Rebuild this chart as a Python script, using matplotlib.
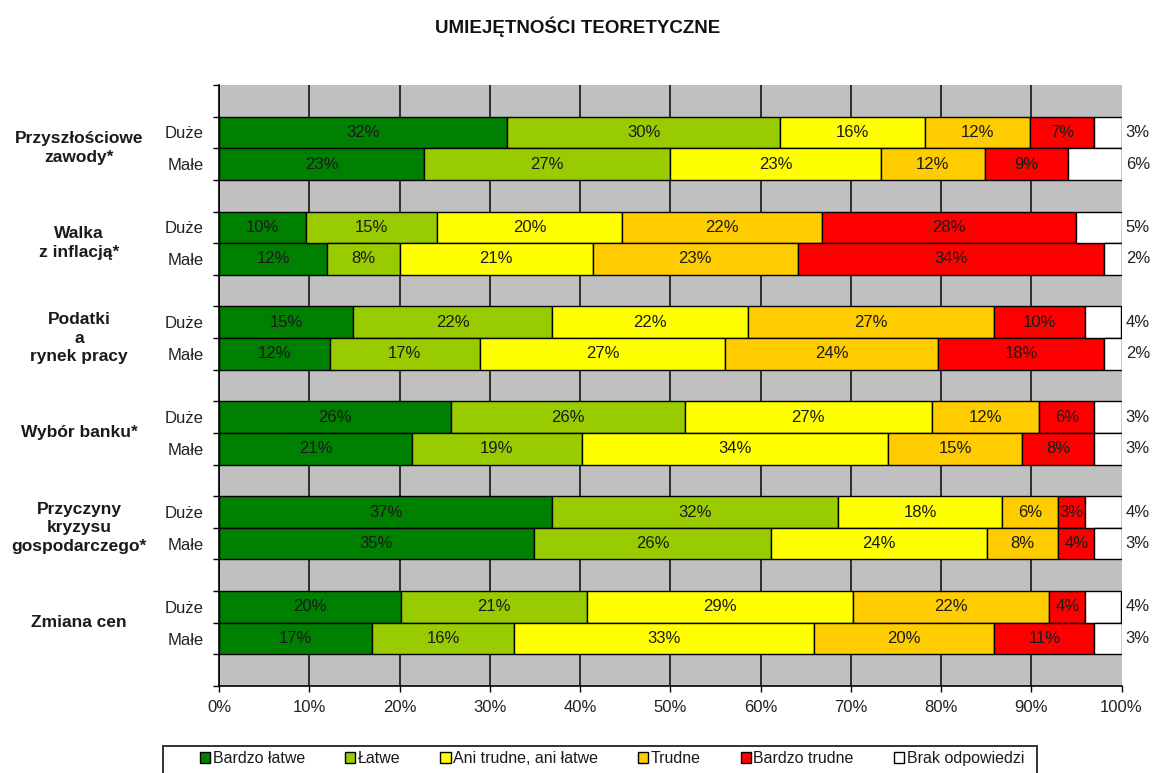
import matplotlib
matplotlib.use("Agg")
import matplotlib.pyplot as plt
import matplotlib.transforms as mtransforms
from matplotlib.patches import Patch, Rectangle

plt.rcParams['font.family'] = ['Liberation Sans', 'DejaVu Sans']

# data (percent of answers), rows top to bottom: group x (Duże, Małe)
groups = ["Przyszłościowe\nzawody*", "Walka\nz inflacją*", "Podatki\na\nrynek pracy",
          "Wybór banku*", "Przyczyny\nkryzysu\ngospodarczego*", "Zmiana cen"]
sizes = ["Duże", "Małe"]
bardzo_latwe = [31.9, 22.7, 9.6, 12.0, 14.9, 12.3, 25.7, 21.4, 36.9, 34.9, 20.2, 17.0]
latwe = [30.3, 27.3, 14.6, 8.0, 22.0, 16.6, 25.9, 18.8, 31.7, 26.3, 20.6, 15.7]
ani = [16.0, 23.3, 20.4, 21.4, 21.7, 27.2, 27.4, 33.9, 18.2, 23.9, 29.4, 33.2]
trudne = [11.7, 11.6, 22.2, 22.7, 27.3, 23.6, 11.9, 14.9, 6.2, 7.9, 21.8, 20.0]
bardzo_trudne = [7.1, 9.2, 28.2, 34.0, 10.1, 18.4, 6.1, 8.0, 3.0, 4.0, 4.0, 11.1]
brak = [3.0, 5.9, 5.0, 1.9, 4.0, 1.9, 3.0, 3.0, 4.0, 3.0, 4.0, 3.0]

series = [bardzo_latwe, latwe, ani, trudne, bardzo_trudne, brak]
names = ["Bardzo łatwe", "Łatwe", "Ani trudne, ani łatwe", "Trudne", "Bardzo trudne", "Brak odpowiedzi"]
colors = ["#008000", "#99CC00", "#FFFF00", "#FFCC00", "#FF0000", "#FFFFFF"]

W, H = 1156, 773
fig = plt.figure(figsize=(W / 100, H / 100), dpi=100)
ax = fig.add_axes([219 / W, 1 - 686 / H, (1121.5 - 219) / W, (686 - 85) / H])
ax.set_facecolor("#C0C0C0")

n_rows = len(bardzo_latwe)
ypos = [3 * (i // 2) + 1.5 + (i % 2) for i in range(n_rows)]

left = [0.0] * n_rows
for s, (vals, col) in enumerate(zip(series, colors)):
    ax.barh(ypos, vals, left=left, height=1.0, color=col, edgecolor="black",
            linewidth=1.0, zorder=3)
    for i in range(n_rows):
        txt = f"{vals[i]:.0f}%"
        if s == len(series) - 1:
            ax.annotate(txt, xy=(100, ypos[i]), xytext=(3, 0), textcoords="offset points",
                        ha="left", va="center", fontsize=12, color="#222222",
                        annotation_clip=False)
        else:
            ax.text(left[i] + vals[i] / 2, ypos[i], txt, ha="center", va="center",
                    fontsize=12, color="#1a1a1a", zorder=4)
    left = [l + v for l, v in zip(left, vals)]

ax.set_xlim(0, 100)
ax.set_ylim(3 * len(groups) + 1, 0)

ax.set_xticks(range(0, 101, 10))
ax.set_xticklabels([f"{t}%" for t in range(0, 101, 10)], fontsize=12, color="#222222")
ax.tick_params(axis="x", direction="out", length=4, width=1, pad=6)
ax.grid(axis="x", color="#222222", linewidth=1.3, zorder=0)
ax.set_axisbelow(True)
ax.xaxis.get_gridlines()[-1].set_visible(False)

ax.set_yticks(range(0, 3 * len(groups) + 2))
ax.set_yticklabels([])
ax.set_yticks(ypos, minor=True)
ax.set_yticklabels(sizes * len(groups), minor=True, fontsize=12, color="#222222")
ax.tick_params(axis="y", which="major", direction="out", length=4, width=1)
ax.tick_params(axis="y", which="minor", length=0, pad=11)

for sp in ["top", "right"]:
    ax.spines[sp].set_visible(False)
for sp in ["left", "bottom"]:
    ax.spines[sp].set_color("black")
    ax.spines[sp].set_linewidth(1.2)

trans = mtransforms.blended_transform_factory(fig.transFigure, ax.transData)
for g, name in enumerate(groups):
    ax.text(79 / W, 3 * g + 2, name, transform=trans, ha="center", va="center",
            fontsize=12.5, fontweight="bold", color="#1a1a1a", linespacing=1.3)

fig.text(578 / W, 1 - 27 / H, "UMIEJĘTNOŚCI TEORETYCZNE", ha="center", va="center",
         fontsize=13.5, fontweight="bold", color="#111111")

handles = [Patch(facecolor=c, edgecolor="black", linewidth=1.0) for c in colors]
leg = fig.legend(handles, names, loc="upper left", bbox_to_anchor=(200 / W, 1 - 751 / H),
                 bbox_transform=fig.transFigure, ncol=6, frameon=False, fontsize=11.5,
                 handlelength=0.65, handleheight=0.65, handletextpad=0.15,
                 columnspacing=2.5, borderpad=0, borderaxespad=0)
for t in leg.get_texts():
    t.set_color("#1a1a1a")

fig.patches.append(Rectangle((163 / W, -0.05), (1037 - 163) / W, 0.05 + 1 - 746 / H,
                             transform=fig.transFigure, fill=False, edgecolor="#222222",
                             linewidth=1.3))

fig.savefig("out.png", dpi=100)
